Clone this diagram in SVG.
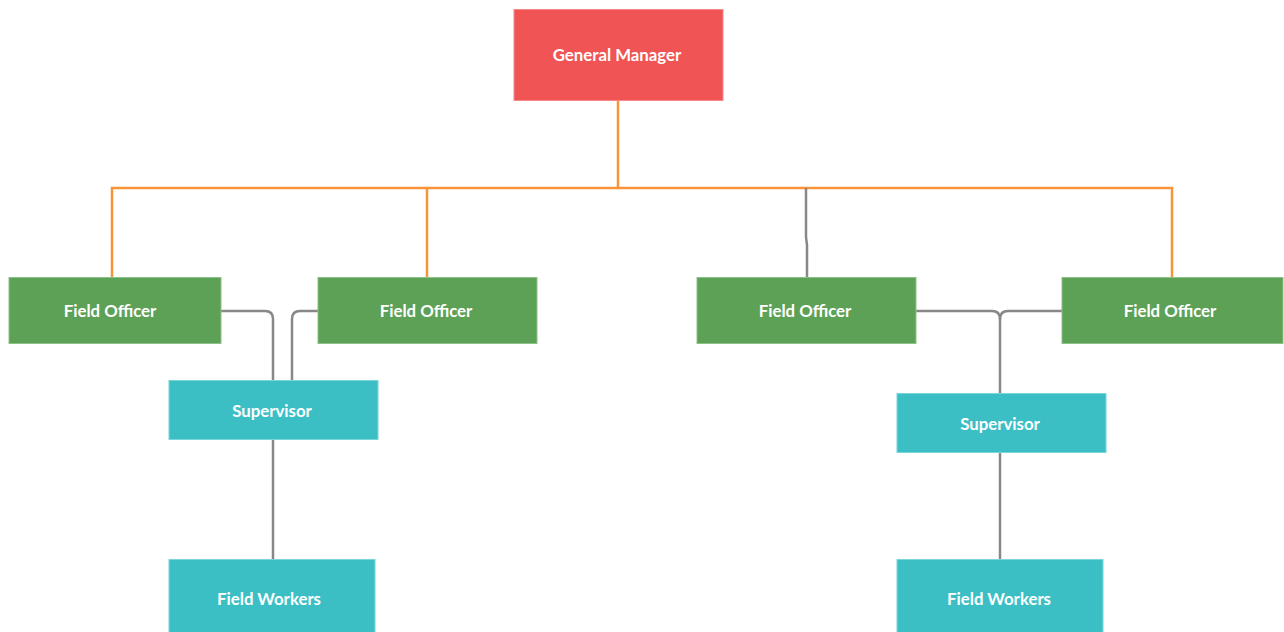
<svg xmlns="http://www.w3.org/2000/svg" width="1284" height="632" viewBox="0 0 1284 632">
<style>
.box{stroke-width:1}
.gm{fill:#F05455;stroke:#F58A8A}
.fo{fill:#5DA157;stroke:#8CC287}
.sv{fill:#3BBFC4;stroke:#79D6D9}
.t{font-family:Lato,"Open Sans",sans-serif;font-weight:bold;font-size:16.8px;fill:#ffffff;text-anchor:middle;dominant-baseline:central}
.or{fill:none;stroke:#F7943A;stroke-width:2.5}
.gr{fill:none;stroke:#888888;stroke-width:2.5}
</style>
<rect width="1284" height="632" fill="#ffffff"/>
<g id="connectors">
<path class="or" d="M618,100 V188 M112,277 V188 H1172 V277 M427,188 V277"/>
<path class="gr" d="M806,188 V237 L807,245 V277"/>
<path class="gr" d="M221,311 H265 Q273,311 273,319 V380"/>
<path class="gr" d="M318,311 H300 Q292,311 292,319 V380"/>
<path class="gr" d="M273,439 V559"/>
<path class="gr" d="M916,311 H992 Q1000,311 1000,319 V393"/>
<path class="gr" d="M1062,311 H1008 Q1000,311 1000,319"/>
<path class="gr" d="M1000,452 V559"/>
</g>
<g id="gm"><rect class="box gm" x="514" y="9.5" width="209" height="91"/><text class="t" x="617" y="54">General Manager</text></g>
<g id="fo1"><rect class="box fo" x="9" y="277.5" width="212" height="66"/><text class="t" x="110" y="310">Field Officer</text></g>
<g id="fo2"><rect class="box fo" x="318" y="277.5" width="219" height="66"/><text class="t" x="426" y="310">Field Officer</text></g>
<g id="fo3"><rect class="box fo" x="697" y="277.5" width="219" height="66"/><text class="t" x="805" y="310">Field Officer</text></g>
<g id="fo4"><rect class="box fo" x="1062" y="277.5" width="221" height="66"/><text class="t" x="1170" y="310">Field Officer</text></g>
<g id="sv1"><rect class="box sv" x="169" y="380.5" width="209" height="59"/><text class="t" x="272" y="410">Supervisor</text></g>
<g id="sv2"><rect class="box sv" x="897" y="393.5" width="209" height="59"/><text class="t" x="1000" y="423">Supervisor</text></g>
<g id="fw1"><rect class="box sv" x="169" y="559.5" width="206" height="80"/><text class="t" x="269" y="598">Field Workers</text></g>
<g id="fw2"><rect class="box sv" x="897" y="559.5" width="206" height="80"/><text class="t" x="999" y="598">Field Workers</text></g>
</svg>
